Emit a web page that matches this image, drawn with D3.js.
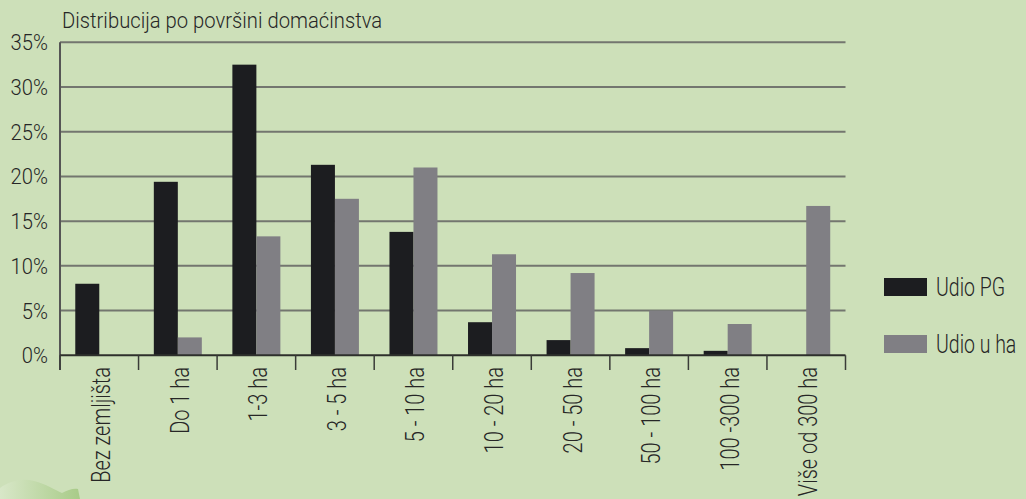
<!DOCTYPE html>
<html>
<head>
<meta charset="utf-8">
<script src="https://cdn.jsdelivr.net/npm/d3@7"></script>
<style>
  html, body { margin: 0; padding: 0; background: #cde0b9; }
  svg { display: block; }
  text { font-family: Roboto, "Liberation Sans", sans-serif; font-weight: 300; fill: #262626; }
</style>
</head>
<body>
<svg id="chart" width="1026" height="499"></svg>
<script>
const categories = ["Bez zemljišta", "Do 1 ha", "1-3 ha", "3 - 5 ha", "5 - 10 ha", "10 - 20 ha", "20 - 50 ha", "50 - 100 ha", "100 -300 ha", "Više od 300 ha"];
const udioPG = [8.0, 19.4, 32.5, 21.3, 13.8, 3.7, 1.7, 0.8, 0.5, 0];
const udioHa = [0, 2.0, 13.3, 17.5, 21.0, 11.3, 9.2, 5.0, 3.5, 16.7];
const seriesNames = ["Udio PG", "Udio u ha"];
const yTicks = [0, 5, 10, 15, 20, 25, 30, 35];
const title = "Distribucija po površini domaćinstva";

const colors = ["#1c1d20", "#807f84"];
const svg = d3.select("#chart");

// decoration bottom-left
const defs = svg.append("defs");
const grad = defs.append("linearGradient").attr("id", "leafGrad").attr("x1", "0").attr("x2", "1").attr("y1", "0").attr("y2", "0");
grad.append("stop").attr("offset", "0").attr("stop-color", "#d8e7c8");
grad.append("stop").attr("offset", "1").attr("stop-color", "#a8cb88");
svg.append("path")
  .attr("d", "M0,499 L0,488 C10,481 22,478 34,481 C46,484 55,490 62,493 C68,490 73,488 78,489 L80,499 Z")
  .attr("fill", "url(#leafGrad)");

const x0 = 60, x1 = 845.5, yTop = 42.3, yBottom = 355.3;

const x = d3.scaleBand().domain(categories).range([x0, x1]).paddingInner(0).paddingOuter(0);
const y = d3.scaleLinear().domain([0, 35]).range([yBottom, yTop]);
const sub = d3.scaleBand().domain(seriesNames).range([0, 48]);
const barOffset = (x.bandwidth() - 48) / 2;

// gridlines
svg.append("g")
  .selectAll("line")
  .data(yTicks.filter(d => d > 0))
  .join("line")
  .attr("x1", x0).attr("x2", x1)
  .attr("y1", d => y(d)).attr("y2", d => y(d))
  .attr("stroke", "#73766f").attr("stroke-width", 2);

// bars
const data = categories.map((c, i) => ({ c, vals: [udioPG[i], udioHa[i]] }));
const groups = svg.append("g").selectAll("g").data(data).join("g")
  .attr("transform", d => `translate(${x(d.c) + barOffset},0)`);
groups.selectAll("rect")
  .data(d => d.vals.map((v, j) => ({ v, s: seriesNames[j], j })))
  .join("rect")
  .attr("x", d => sub(d.s))
  .attr("width", sub.bandwidth())
  .attr("y", d => y(d.v))
  .attr("height", d => yBottom - y(d.v))
  .attr("fill", d => colors[d.j]);

// y axis tick labels (condensed via horizontal scale)
svg.append("g").selectAll("text").data(yTicks).join("text")
  .attr("transform", d => `translate(48,${y(d)}) scale(0.92,1)`)
  .attr("text-anchor", "end")
  .attr("dy", "0.36em")
  .attr("font-size", 22)
  .text(d => d + "%");

svg.append("line").attr("x1", x0).attr("x2", x0).attr("y1", yTop).attr("y2", 370)
  .attr("stroke", "#555").attr("stroke-width", 2);

// x axis
svg.append("line").attr("x1", x0).attr("x2", x1).attr("y1", yBottom).attr("y2", yBottom)
  .attr("stroke", "#2e302c").attr("stroke-width", 2);
const bounds = categories.map(c => x(c)).concat([x1]);
svg.append("g").selectAll("line").data(bounds).join("line")
  .attr("x1", d => d).attr("x2", d => d).attr("y1", yBottom).attr("y2", 370)
  .attr("stroke", "#3a3c38").attr("stroke-width", 1.5);

svg.append("g").selectAll("text").data(categories).join("text")
  .attr("transform", d => `translate(${x(d) + x.bandwidth() / 2 + 2},367) rotate(-90) scale(0.8,1)`)
  .attr("text-anchor", "end")
  .attr("dy", "0.36em")
  .attr("font-size", 25)
  .text(d => d);

// title
svg.append("text").attr("transform", "translate(62,28) scale(0.92,1)").attr("font-size", 22).text(title);

// legend
const legend = svg.append("g").selectAll("g").data(seriesNames).join("g")
  .attr("transform", (d, i) => `translate(884,${278 + i * 57})`);
legend.append("rect").attr("width", 43).attr("height", 18).attr("fill", (d, i) => colors[i]);
legend.append("text").attr("transform", "translate(52,18) scale(0.78,1)").attr("font-size", 25).text(d => d);
</script>
</body>
</html>
